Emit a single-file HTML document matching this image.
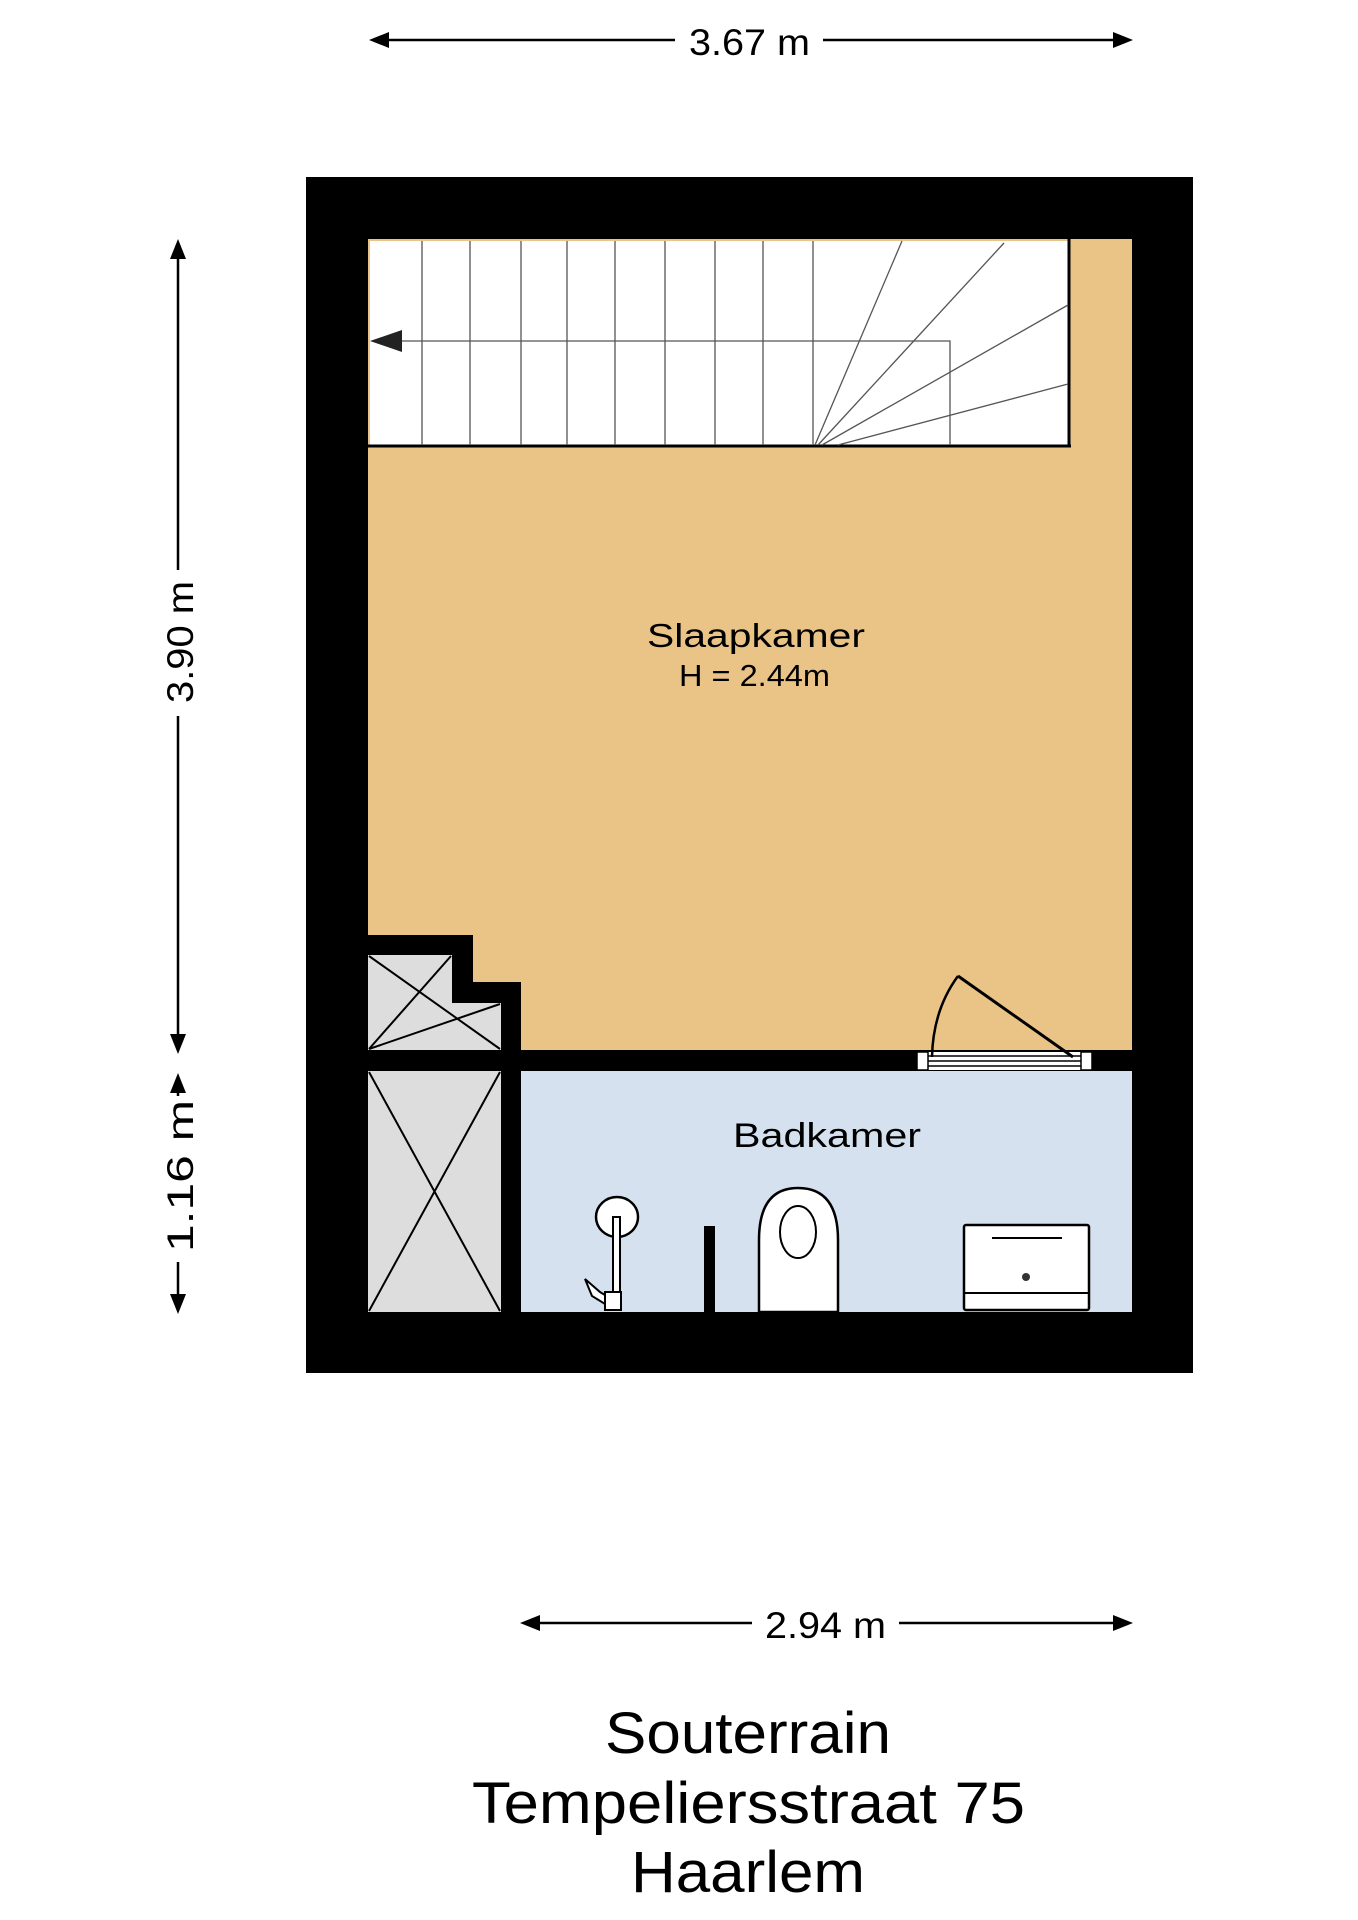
<!DOCTYPE html>
<html><head><meta charset="utf-8"><style>html,body{margin:0;padding:0;background:#fff}svg{display:block}text{font-family:"Liberation Sans",sans-serif;fill:#000}</style></head>
<body>
<svg width="1358" height="1920" viewBox="0 0 1358 1920" xmlns="http://www.w3.org/2000/svg">
<line x1="380" y1="40" x2="675" y2="40" stroke="#000" stroke-width="2.5"/>
<line x1="823" y1="40" x2="1122" y2="40" stroke="#000" stroke-width="2.5"/>
<polygon points="369,40 389,32 389,48"/><polygon points="1133,40 1113,32 1113,48"/>
<text x="689" y="55" font-size="37" textLength="121" lengthAdjust="spacingAndGlyphs">3.67 m</text>
<line x1="178" y1="250" x2="178" y2="570" stroke="#000" stroke-width="2.5"/>
<line x1="178" y1="716" x2="178" y2="1042" stroke="#000" stroke-width="2.5"/>
<polygon points="178,239 170,259 186,259"/><polygon points="178,1054 170,1034 186,1034"/>
<text transform="translate(193,703) rotate(-90)" font-size="37" textLength="122" lengthAdjust="spacingAndGlyphs">3.90 m</text>
<line x1="178" y1="1082" x2="178" y2="1096" stroke="#000" stroke-width="2.5"/>
<line x1="178" y1="1262" x2="178" y2="1302" stroke="#000" stroke-width="2.5"/>
<polygon points="178,1073 170,1093 186,1093"/><polygon points="178,1314 170,1294 186,1294"/>
<text transform="translate(193,1252) rotate(-90)" font-size="37" textLength="152" lengthAdjust="spacingAndGlyphs">1.16 m</text>
<rect x="306" y="177" width="887" height="1196" fill="#000"/>
<rect x="368" y="239" width="764" height="811" fill="#eac487"/>
<rect x="370" y="241" width="699" height="204" fill="#fff"/>
<line x1="1069" y1="239" x2="1069" y2="447" stroke="#000" stroke-width="3"/>
<line x1="368" y1="446" x2="1071" y2="446" stroke="#000" stroke-width="3"/>
<g stroke="#555" stroke-width="1.3" fill="none">
<line x1="422" y1="241" x2="422" y2="445"/><line x1="470" y1="241" x2="470" y2="445"/><line x1="521" y1="241" x2="521" y2="445"/><line x1="567" y1="241" x2="567" y2="445"/><line x1="615" y1="241" x2="615" y2="445"/><line x1="665" y1="241" x2="665" y2="445"/><line x1="715" y1="241" x2="715" y2="445"/><line x1="763" y1="241" x2="763" y2="445"/><line x1="813" y1="241" x2="813" y2="445"/>
<line x1="815" y1="445" x2="902" y2="241"/><line x1="818" y1="445" x2="1004" y2="243"/><line x1="822" y1="445" x2="1068" y2="305"/><line x1="838" y1="445" x2="1068" y2="384"/>
<polyline points="402,341 950,341 950,445"/>
</g>
<polygon points="370,341 402,330 402,352" fill="#222"/>
<polygon points="368,935 473,935 473,982 521,982 521,1373 306,1373 306,935" fill="#000"/>
<polygon points="368,955 452,955 452,1003 501,1003 501,1050 368,1050" fill="#ddd"/>
<rect x="368" y="1071" width="133" height="241" fill="#ddd"/>
<g stroke="#000" stroke-width="2" fill="none">
<line x1="369" y1="956" x2="500" y2="1049"/><line x1="451" y1="956" x2="369" y2="1049"/><line x1="369" y1="1049" x2="500" y2="1004"/>
<line x1="369" y1="1072" x2="500" y2="1311"/><line x1="500" y1="1072" x2="369" y2="1311"/>
</g>
<rect x="521" y="1071" width="611" height="241" fill="#d5e1ee"/>
<rect x="368" y="1050" width="764" height="21" fill="#000"/>
<rect x="917" y="1052" width="175" height="18" fill="#fff"/>
<g stroke="#000" fill="none">
<rect x="917" y="1052" width="11" height="18" stroke-width="1.5"/><rect x="1081" y="1052" width="11" height="18" stroke-width="1.5"/>
<line x1="928" y1="1056" x2="1081" y2="1056" stroke-width="1.5"/><line x1="928" y1="1061" x2="1081" y2="1061" stroke-width="1.5"/><line x1="928" y1="1066" x2="1081" y2="1066" stroke-width="1.5"/>
<line x1="1073" y1="1057" x2="958" y2="976" stroke-width="3"/>
<path d="M958,976 Q933,1010 932,1057" stroke-width="2.5"/>
</g>
<g stroke="#000" stroke-width="2.5" fill="#fff">
<ellipse cx="617" cy="1217" rx="21" ry="20"/>
<rect x="613" y="1217" width="7" height="92" stroke-width="2"/>
<path d="M585,1279 L600,1292 L610,1298 L605,1304 L592,1296 Z" stroke-width="2"/>
<rect x="605" y="1292" width="16" height="18" stroke-width="2"/>
<path d="M759,1312 L759,1240 Q759,1188 798,1188 Q838,1188 838,1240 L838,1312 Z"/>
<ellipse cx="798" cy="1232" rx="18" ry="26" stroke-width="2"/>
<rect x="964" y="1225" width="125" height="85" rx="2"/>
<line x1="964" y1="1293" x2="1089" y2="1293" stroke-width="2"/>
<line x1="992" y1="1238" x2="1062" y2="1238" stroke-width="2"/>
</g>
<rect x="704" y="1226" width="11" height="86" fill="#000"/>
<circle cx="1026" cy="1277" r="4" fill="#333"/>
<text x="647" y="647" font-size="33" textLength="218" lengthAdjust="spacingAndGlyphs">Slaapkamer</text>
<text x="679" y="686" font-size="31" textLength="151" lengthAdjust="spacingAndGlyphs">H = 2.44m</text>
<text x="733" y="1147" font-size="34" textLength="188" lengthAdjust="spacingAndGlyphs">Badkamer</text>
<line x1="530" y1="1623" x2="752" y2="1623" stroke="#000" stroke-width="2.5"/>
<line x1="899" y1="1623" x2="1122" y2="1623" stroke="#000" stroke-width="2.5"/>
<polygon points="520,1623 540,1615 540,1631"/><polygon points="1133,1623 1113,1615 1113,1631"/>
<text x="765" y="1638" font-size="37" textLength="121" lengthAdjust="spacingAndGlyphs">2.94 m</text>
<text x="605" y="1753" font-size="58" textLength="286" lengthAdjust="spacingAndGlyphs">Souterrain</text>
<text x="472" y="1823" font-size="58" textLength="553" lengthAdjust="spacingAndGlyphs">Tempeliersstraat 75</text>
<text x="631" y="1892" font-size="58" textLength="234" lengthAdjust="spacingAndGlyphs">Haarlem</text>
</svg>
</body></html>
